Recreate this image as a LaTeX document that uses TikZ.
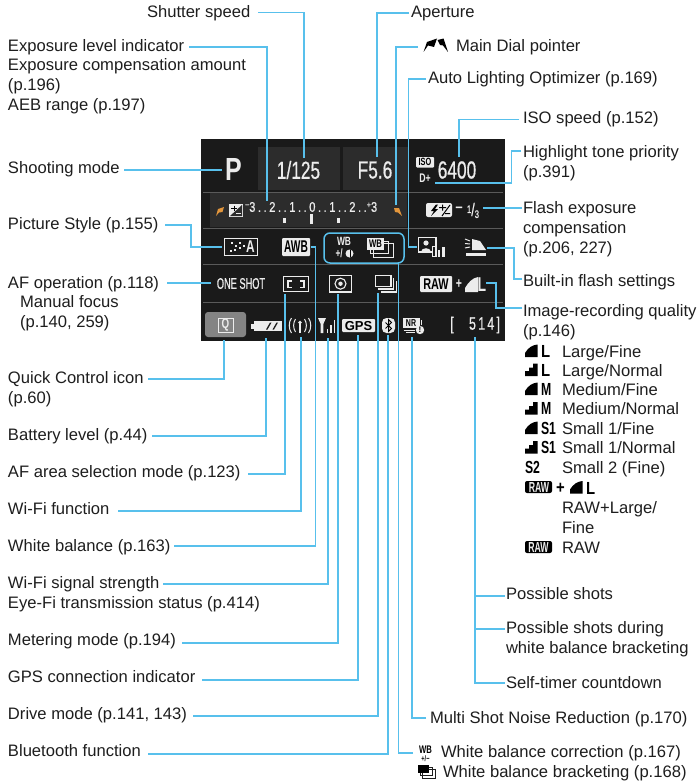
\documentclass[tikz,border=0pt]{standalone}
\usepackage{fontspec}
\setmainfont{Liberation Sans}
\newfontfamily\condA[FakeStretch=0.7]{Liberation Sans}
\newfontfamily\condM[FakeStretch=0.7,FakeBold=0.6]{Liberation Sans}
\newfontfamily\condB[FakeStretch=0.6]{Liberation Sans}
\newfontfamily\condN[FakeStretch=0.6,FakeBold=0.6]{Liberation Sans}
\newfontfamily\condC[FakeStretch=0.78]{Liberation Sans}
\newfontfamily\condD[FakeStretch=0.85]{Liberation Sans}
\newfontfamily\scalefnt[FakeStretch=0.8,LetterSpace=18,FakeBold=0.5]{Liberation Sans}
\newfontfamily\shotfnt[FakeStretch=0.7,LetterSpace=12,FakeBold=0.6]{Liberation Sans}
\usetikzlibrary{calc}
\definecolor{leadc}{RGB}{88,192,236}
\definecolor{screenc}{RGB}{26,26,26}
\definecolor{panelc}{RGB}{44,44,44}
\definecolor{rulec}{RGB}{90,90,90}
\definecolor{orangec}{RGB}{226,150,60}
\definecolor{inkc}{RGB}{30,30,30}
\definecolor{scrw}{RGB}{236,236,236}
\definecolor{qbtn}{RGB}{132,132,132}
\tikzset{
  x=1pt,y=-1pt,
  lab/.style={anchor=base west,inner sep=0,outer sep=0,text=inkc,align=left,
    font=\fontsize{16.6}{19.6}\selectfont},
  leader/.style={draw=leadc,line width=1.5pt,line join=miter},
  rowline/.style={draw=rulec,line width=.8pt},
  scr/.style={inner sep=0,outer sep=0,text=scrw},
  wht/.style={draw=scrw,line width=1.1pt},
  qt/.style={anchor=base west,inner sep=0,outer sep=0,text=black,
    font=\condD\bfseries\fontsize{17.5}{18}\selectfont},
  qs/.style={anchor=base west,inner sep=0,outer sep=0,text=black,
    font=\condA\bfseries\fontsize{17.5}{18}\selectfont},
  qfine/.pic={\fill[black] (0,0) -- (0,-4) .. controls (3,-9) and (7,-12) .. (12.5,-12.5) -- (12.5,0) -- cycle;},
  qnorm/.pic={\fill[black] (0,0) -- (0,-5) -- (4,-5) -- (4,-8.5) -- (8,-8.5) -- (8,-12.5) -- (12.5,-12.5) -- (12.5,0) -- cycle;},
  rawbadge/.pic={\fill[black,rounded corners=2pt] (0,0) rectangle (27,-12);},
}
\begin{document}
\begin{tikzpicture}
\useasboundingbox (0,0) rectangle (698,784);
\fill[white] (0,0) rectangle (698,784);

% ---------- screen ----------
\fill[screenc] (201,139) rectangle (505,341);
\fill[panelc] (258,147) rectangle (340,190);
\fill[panelc] (343,147) rectangle (408,190);
\fill[panelc] (210,193) rectangle (407,227);
\foreach \yy in {192,228.5,264.5,302} \draw[rowline] (203,\yy) -- (503,\yy);

\node[scr,font=\condC\bfseries\fontsize{32}{32}\selectfont] (modeP) at (233.5,169.5) {P};
\node[scr,font=\condM\fontsize{24.7}{25}\selectfont] (tv) at (298.5,170) {1/125};
\node[scr,font=\condM\fontsize{24.7}{25}\selectfont] (av) at (375,170) {F5.6};
\node[scr,font=\condM\fontsize{24.7}{25}\selectfont] (iso) at (457,170) {6400};
\fill[scrw,rounded corners=1pt] (416,157) rectangle (434,167.5);
\node[scr,text=black,font=\condA\bfseries\fontsize{10.5}{11}\selectfont] (isolab) at (425,162.3) {ISO};
\node[scr,font=\condA\bfseries\fontsize{12.5}{13}\selectfont] (dplus) at (425,178) {D+};

% exposure row
\fill[orangec] (216,216) -- (218,209) -- (224,207) -- (222.5,212) -- (219,212.5) -- cycle;
\fill[orangec] (394,208) -- (399,208) -- (402,216) -- (398,212.5) -- (395,212) -- cycle;
\fill[scrw] (229,204) rectangle (243,217);
\fill[panelc] (229.8,216.2) -- (242.2,204.8) -- (242.2,216.2) -- cycle;
\draw[black,line width=1pt] (231,208) -- (237,208) (234,205.5) -- (234,210.5);
\draw[scrw,line width=1pt] (236,213) -- (241,213);
\node[scr,anchor=west,font=\scalefnt\fontsize{14}{14}\selectfont] (scale) at (245,207)
  {\raisebox{4pt}{\fontsize{9}{9}\selectfont −}3..2..1..0..1..2..\raisebox{4pt}{\fontsize{9}{9}\selectfont +}3};
\fill[scrw] (282.5,218) rectangle (285.5,223);
\fill[scrw] (309.5,214) rectangle (312.5,224);
\fill[scrw] (336.5,218) rectangle (339.5,223);

% flash compensation
\fill[scrw,rounded corners=2pt] (426,203) rectangle (452,217);
\fill[black] (436,204.5) -- (431,211) -- (434,211) -- (431,216) -- (438,209) -- (435,209) -- (438,204.5) -- cycle;
\draw[black,line width=1pt] (439,207.5) -- (446,207.5) (442.5,204.5) -- (442.5,210.5) (442,216) -- (450,205) (445,213.5) -- (450,213.5);
\node[scr,font=\condM\fontsize{18}{18}\selectfont] (fcm) at (459,210) {−};
\node[scr,font=\condM\fontsize{18}{18}\selectfont] (fcv) at (473,210.5) {\raisebox{3pt}{\fontsize{11}{11}\selectfont 1}/\raisebox{-2pt}{\fontsize{11}{11}\selectfont 3}};

% row 3
\draw[wht] (224.5,238.5) rectangle (257.5,255.5);
\foreach \px/\py in {232/243,236/246,235/250,240/243,240/248,244/246,231/251}
  \fill[scrw] (\px-1.3,\py-1.3) rectangle (\px+1.3,\py+1.3);
\node[scr,font=\condA\bfseries\fontsize{17}{17}\selectfont] (psA) at (250.5,247) {A};
\fill[scrw,rounded corners=1pt] (282,238) rectangle (310,256);
\node[scr,text=black,font=\condB\bfseries\fontsize{17}{17}\selectfont] (awb) at (296,247) {AWB};
\node[scr,font=\condA\bfseries\fontsize{12}{12}\selectfont] (wbt) at (344,241.5) {WB};
\node[scr,anchor=west,font=\condA\bfseries\fontsize{12}{12}\selectfont] (wbp) at (335.5,253.5) {+/};
\fill[scrw] (349.5,253.5) circle (4);
\fill[black] (349.5,250) rectangle (350.6,257);
\draw[wht,line width=.9pt] (373,243) rectangle (393,257);
\draw[wht,line width=.9pt] (370,241) rectangle (388,253);
\fill[scrw] (367,238) rectangle (384,250);
\node[scr,text=black,font=\condA\bfseries\fontsize{11}{11}\selectfont] (wbb) at (375.5,244) {WB};
\draw[wht] (418.5,237.5) rectangle (436,252);
\fill[scrw] (426,243) circle (2.6);
\fill[scrw] (421,252) .. controls (421,247) and (431,247) .. (431,252) -- cycle;
\fill[scrw] (432,246) rectangle (436.5,257);
\fill[screenc] (433,247) rectangle (434.5,256);
\fill[scrw] (438,250) rectangle (440,257);
\fill[scrw] (442,247) rectangle (444.5,257);
\draw[scrw,line width=1pt] (465,239) -- (470,241) (465,243.5) -- (470,244) (465,248) -- (470,247);
\fill[scrw] (472,239) -- (480,241) -- (486,250) -- (472,250) -- cycle;
\fill[scrw] (466,253) rectangle (486,256);

% WB bracket outline
\draw[leader,rounded corners=6pt] (324,233) rectangle (404,263);

% row 4
\node[scr,font=\condN\fontsize{15.4}{16}\selectfont] (oneshot) at (241,283.5) {ONE SHOT};
\draw[wht] (283.5,276.5) rectangle (308.5,291.5);
\draw[wht] (292,281) -- (288,281) -- (288,287.5) -- (292,287.5) (300,281) -- (304,281) -- (304,287.5) -- (300,287.5);
\draw[wht] (329.5,275.5) rectangle (351.5,292);
\draw[wht] (340.5,283.7) circle (5.5);
\fill[scrw] (340.5,283.7) circle (2.2);
\draw[wht] (375.5,275.5) rectangle (391,286.5);
\draw[wht] (393.5,278) -- (393.5,289) -- (378,289);
\draw[wht] (396.5,281) -- (396.5,292) -- (381,292);
\fill[scrw,rounded corners=1pt] (420,276) rectangle (452,292);
\node[scr,text=black,font=\condA\bfseries\fontsize{15.5}{16}\selectfont] (rawscr) at (436,284) {RAW};
\node[scr,font=\condA\bfseries\fontsize{15}{15}\selectfont] (plusscr) at (459,284) {+};
\fill[scrw] (465,292) -- (465,288) .. controls (468,283) and (472,278) .. (478,277) -- (478,292) -- cycle;
\node[scr,font=\condA\bfseries\fontsize{20}{20}\selectfont] (lscr) at (482,284.5) {L};

% row 5
\fill[qbtn,rounded corners=3pt] (205,312) rectangle (246,337);
\draw[wht,line width=1pt] (218,318) rectangle (233,332);
\node[scr,font=\condA\bfseries\fontsize{14}{14}\selectfont] (qicon) at (225.5,325) {Q};
\fill[scrw] (251,324) rectangle (254,328.5);
\fill[scrw] (254,321) rectangle (282,331);
\foreach \bx in {266,272.5} \fill[screenc] (\bx,329.5) -- (\bx+4,322.5) -- (\bx+5.5,322.5) -- (\bx+1.5,329.5) -- cycle;
\draw[scrw,line width=1pt]
  (295.5,319) .. controls (293,323) and (293,328) .. (295.5,332)
  (291.5,318) .. controls (288.5,322) and (288.5,329) .. (291.5,333)
  (304.5,319) .. controls (307,323) and (307,328) .. (304.5,332)
  (308.5,318) .. controls (311.5,322) and (311.5,329) .. (308.5,333);
\fill[scrw] (300,322.5) circle (1.8);
\draw[scrw,line width=1.3pt] (300,323) -- (300,333);
\fill[scrw] (318,318) -- (326,318) -- (323.3,324) -- (323.3,333) -- (320.7,333) -- (320.7,324) -- cycle;
\fill[scrw] (326.5,329) rectangle (328,333);
\fill[scrw] (330,325) rectangle (331.5,333);
\fill[scrw] (333.5,320) rectangle (335,333);
\fill[scrw,rounded corners=1pt] (342,319) rectangle (375,332);
\node[scr,text=black,font=\fontsize{13}{13}\bfseries\selectfont] (gps) at (358.5,325.7) {GPS};
\fill[scrw,rounded corners=4.5pt] (382,318) rectangle (395,333);
\draw[black,line width=1pt] (385.5,322.5) -- (391.5,328.5) -- (388.5,331.5) -- (388.5,319.5) -- (391.5,322.5) -- (385.5,328.5);
\fill[scrw] (403,318) rectangle (420,328);
\node[scr,text=black,font=\condA\bfseries\fontsize{10}{10}\selectfont] (nrt) at (411,323) {NR};
\draw[scrw,line width=.9pt] (403.5,330) -- (415,330) (406,332.5) -- (415,332.5) (421.5,320) -- (421.5,325);
\fill[scrw] (420,330) circle (4.2);
\node[scr,text=black,font=\fontsize{8}{8}\bfseries\selectfont] (nrx) at (420,330) {!};
\node[scr,font=\condM\fontsize{18}{18}\selectfont] (brl) at (452,325) {[};
\node[scr,anchor=east,font=\shotfnt\fontsize{18}{18}\selectfont] (shots) at (500,325) {514]};

% ---------- labels ----------
\node[lab] (lshutter) at (147,18) {Shutter speed};
\node[lab] (laperture) at (411,18) {Aperture};
\node[lab] (ldial) at (456,52) {Main Dial pointer};
\fill[black] (423.5,52) -- (427,42) -- (437,38.5) -- (434,47) -- (428,45.5) -- cycle;
\fill[black] (437.5,40) -- (443.5,38.5) -- (448,52) -- (443,45.5) -- (440,45) -- cycle;
\node[lab] (lalo) at (428,84) {Auto Lighting Optimizer (p.169)};
\node[lab] (liso) at (523,123) {ISO speed (p.152)};
\node[lab] (lhigh) at (523,177) {Highlight tone priority\\(p.391)};
\node[lab] (lflash) at (523,253) {Flash exposure\\compensation\\(p.206, 227)};
\node[lab] (lbuilt) at (523,286) {Built-in flash settings};
\node[lab] (lquality) at (523,336) {Image-recording quality\\(p.146)};

\node[lab] (lexp) at (8,110) {Exposure level indicator\\Exposure compensation amount\\(p.196)\\AEB range (p.197)};
\node[lab] (lmode) at (8,173) {Shooting mode};
\node[lab] (lstyle) at (8,229) {Picture Style (p.155)};
\node[lab] (laf) at (8,288) {AF operation (p.118)};
\node[lab] (lmf) at (20,327) {Manual focus\\(p.140, 259)};
\node[lab] (lq) at (8,403) {Quick Control icon\\(p.60)};
\node[lab] (lbatt) at (8,440) {Battery level (p.44)};
\node[lab] (larea) at (8,477) {AF area selection mode (p.123)};
\node[lab] (lwifi) at (8,514) {Wi-Fi function};
\node[lab] (lwb) at (8,551) {White balance (p.163)};
\node[lab] (lsig) at (8,608) {Wi-Fi signal strength\\Eye-Fi transmission status (p.414)};
\node[lab] (lmeter) at (8,645) {Metering mode (p.194)};
\node[lab] (lgps) at (8,682) {GPS connection indicator};
\node[lab] (ldrive) at (8,719) {Drive mode (p.141, 143)};
\node[lab] (lblue) at (8,756) {Bluetooth function};

\node[lab] (lposs) at (506,599) {Possible shots};
\node[lab] (lposb) at (506,653) {Possible shots during\\white balance bracketing};
\node[lab] (ltimer) at (506,688) {Self-timer countdown};
\node[lab] (lnr) at (430,723) {Multi Shot Noise Reduction (p.170)};
\node[lab] (lwbc) at (441,757) {White balance correction (p.167)};
\node[lab] (lwbk) at (443,777) {White balance bracketing (p.168)};

% quality list
\pic at (525,357) {qfine};   \node[qt] (q1) at (541,357) {L};  \node[lab] (t1) at (562,357) {Large/Fine};
\pic at (525,376) {qnorm};   \node[qt] (q2) at (541,376) {L};  \node[lab] (t2) at (562,376) {Large/Normal};
\pic at (525,395) {qfine};   \node[qs] (q3) at (541,395) {M};  \node[lab] (t3) at (562,395) {Medium/Fine};
\pic at (525,414.5) {qnorm}; \node[qs] (q4) at (541,414.5) {M};\node[lab] (t4) at (562,414.5) {Medium/Normal};
\pic at (525,434) {qfine};   \node[qs] (q5) at (541,434) {S1}; \node[lab] (t5) at (562,434) {Small 1/Fine};
\pic at (525,453.5) {qnorm}; \node[qs] (q6) at (541,453.5) {S1};\node[lab] (t6) at (562,453.5) {Small 1/Normal};
\node[qs] (q7) at (525,473) {S2}; \node[lab] (t7) at (562,473) {Small 2 (Fine)};
\pic at (525,493) {rawbadge};
\node[scr,font=\condB\bfseries\fontsize{14.5}{15}\selectfont] (r1) at (539,487.2) {RAW};
\node[qt] (rp) at (556,493) {+};
\pic at (570,493.5) {qfine};
\node[qt] (q8) at (586,494) {L};
\node[lab] (t8) at (562,533) {RAW+Large/\\Fine};
\pic at (525,553) {rawbadge};
\node[scr,font=\condB\bfseries\fontsize{14.5}{15}\selectfont] (r2) at (538.5,547.2) {RAW};
\node[lab] (t9) at (562,553) {RAW};

% bottom icons
\node[scr,text=black,font=\condA\bfseries\fontsize{11}{11}\selectfont] (bwb) at (425.5,750) {WB};
\node[scr,text=black,font=\condA\bfseries\fontsize{8}{8}\selectfont] (bpm) at (425.5,758.6) {+/−};
\draw[inkc,line width=.7pt] (422,769) rectangle (435,778);
\draw[inkc,line width=.7pt] (420,767) rectangle (432,775);
\fill[black] (418,765) rectangle (429,772.5);

% ---------- connector ends on the screen ----------
\coordinate (eShutter) at (304,158);
\coordinate (eAperture) at (377,157);
\coordinate (eDial) at (396,205);
\coordinate (eALO) at (417,247);
\coordinate (eISO) at (459,157);
\coordinate (eHigh) at (435,183);
\coordinate (eFlash) at (483,208);
\coordinate (eBuilt) at (487,248);
\coordinate (eQual) at (486,283);
\coordinate (eExp) at (267,201);
\coordinate (eMode) at (222,170);
\coordinate (eStyle) at (222,247);
\coordinate (eAF) at (211,283);
\coordinate (eQ) at (224,340);
\coordinate (eBatt) at (266,338);
\coordinate (eArea) at (285,294);
\coordinate (eWifi) at (301,337);
\coordinate (eWB) at (310.5,247);
\coordinate (eSig) at (328,338);
\coordinate (eMeter) at (338,294);
\coordinate (eGPS) at (358,335);
\coordinate (eDrive) at (378,293);
\coordinate (eBlue) at (388,335);
\coordinate (eBrk) at (398.5,263);
\coordinate (eNR) at (412,337);
\coordinate (eShots) at (475,337);
\coordinate (trunkEnd) at (475,683);

% ---------- connectors ----------
\draw[leader] ($(lshutter.base west)+(111,-5.5)$) -| (eShutter);
\draw[leader] ($(laperture.base west)+(-2,-5)$) -| (eAperture);
\draw[leader] ($(ldial.base west)+(-38,-5)$) -| (eDial);
\draw[leader] ($(lalo.base west)+(-2,-5)$) -| (408.5,247) -- (eALO);
\draw[leader] ($(liso.base west)+(-4,-3.5)$) -| (eISO);
\draw[leader] ($(lhigh.base west)+(-2,-26)$) -| (511.5,183) -- (eHigh);
\draw[leader] ($(lflash.base west)+(-1,-45)$) -- (eFlash);
\draw[leader] ($(lbuilt.base west)+(-1,-7)$) -| (514,248) -- (eBuilt);
\draw[leader] ($(lquality.base west)+(-1,-28)$) -| (496,283) -- (eQual);

\draw[leader] ($(lexp.base west)+(181,-63)$) -| (eExp);
\draw[leader] ($(lmode.base west)+(116,-3)$) -- (eMode);
\draw[leader] ($(lstyle.base west)+(157,-4)$) -| (191,247) -- (eStyle);
\draw[leader] ($(laf.base west)+(159,-5)$) -- (eAF);
\draw[leader] ($(lq.base west)+(140,-24)$) -| (eQ);
\draw[leader] ($(lbatt.base west)+(144,-4)$) -| (eBatt);
\draw[leader] ($(larea.base west)+(240,-3)$) -| (eArea);
\draw[leader] ($(lwifi.base west)+(110,-3)$) -| (eWifi);
\draw[leader] ($(lwb.base west)+(166,-5)$) -| (315.5,247) -- (eWB);
\draw[leader] ($(lsig.base west)+(155,-24)$) -| (eSig);
\draw[leader] ($(lmeter.base west)+(174,-2)$) -| (eMeter);
\draw[leader] ($(lgps.base west)+(194,-2)$) -| (eGPS);
\draw[leader] ($(ldrive.base west)+(185,-3)$) -| (eDrive);
\draw[leader] ($(lblue.base west)+(140,-2)$) -| (eBlue);
\draw[leader] ($(bwb.west)+(-6,3)$) -| (eBrk);
\draw[leader] ($(lnr.base west)+(-4,-5)$) -| (eNR);
\draw[leader] (eShots) -- (trunkEnd) -- ($(ltimer.base west)+(-1,-5)$);
\draw[leader] (475,596) -- ($(lposs.base west)+(-1,-3)$);
\draw[leader] (475,629) -- ($(lposb.base west)+(-1,-24)$);
\end{tikzpicture}
\end{document}
